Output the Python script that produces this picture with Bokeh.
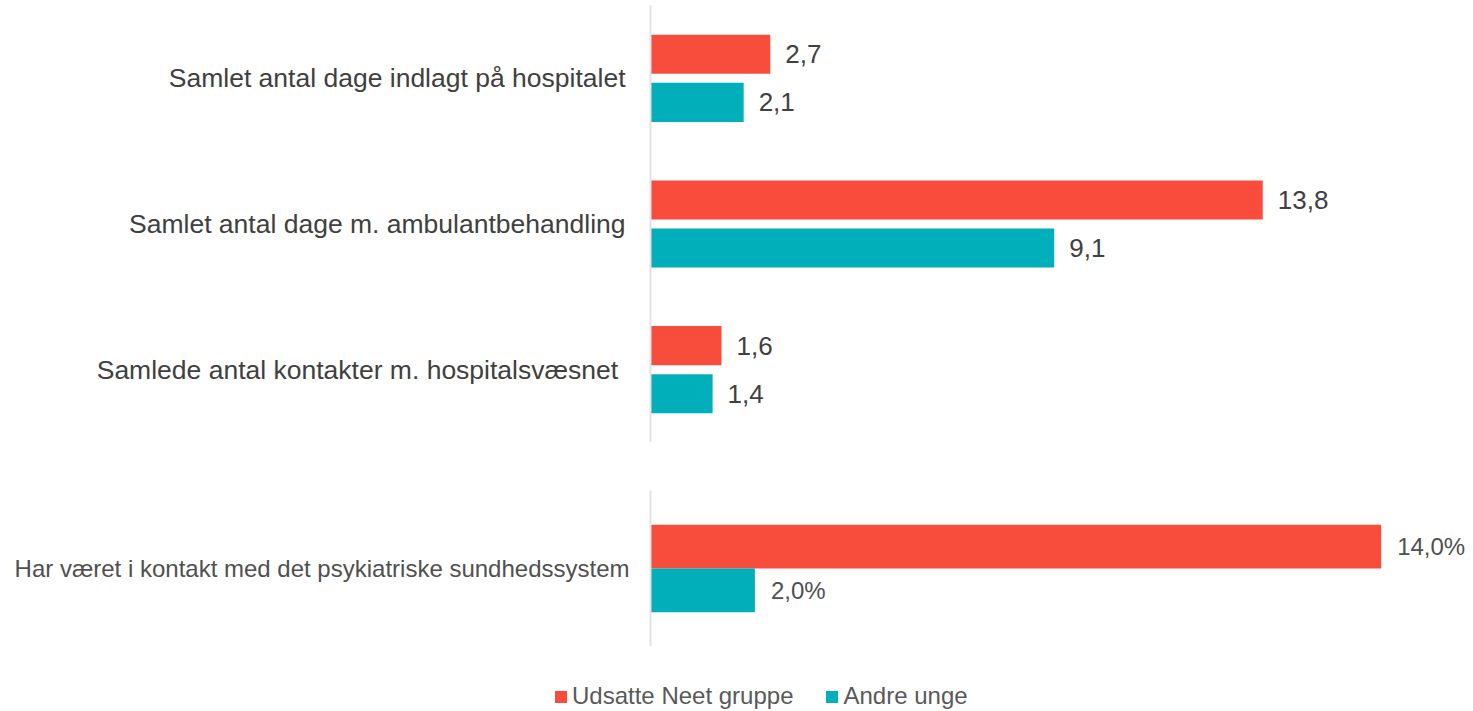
from bokeh.plotting import figure
from bokeh.models import FactorRange, Range1d, ColumnDataSource, LabelSet, Legend, LegendItem
from bokeh.transform import dodge
from bokeh.layouts import column
from bokeh.core.properties import value
from bokeh.embed import file_html
from bokeh.resources import INLINE

# ---- data ----
categories_top = [
    "Samlet antal dage indlagt på hospitalet",
    "Samlet antal dage m. ambulantbehandling",
    "Samlede antal kontakter m. hospitalsvæsnet ",
]
udsatte_top = [2.7, 13.8, 1.6]
andre_top = [2.1, 9.1, 1.4]

categories_bottom = ["Har været i kontakt med det psykiatriske sundhedssystem"]
udsatte_bottom = [14.0]
andre_bottom = [2.0]

series_names = ["Udsatte Neet gruppe", "Andre unge"]

RED = "#F84C3C"
TEAL = "#00AFBA"
FONT = "Liberation Sans"
TXT = "#404040"
W = 1473
LEFT = 650  # frames of stacked plots are aligned by the column


def fmt(v, pct=False):
    s = f"{v:.1f}".replace(".", ",")
    return s + "%" if pct else s


# ---- top figure ----
src_top = ColumnDataSource(dict(
    cat=categories_top,
    u=udsatte_top,
    a=andre_top,
    ul=[fmt(v) for v in udsatte_top],
    al=[fmt(v) for v in andre_top],
))

p1 = figure(
    width=W, height=442,
    y_range=FactorRange(factors=list(reversed(categories_top))),
    x_range=Range1d(0, 18.55),
    output_backend="svg", toolbar_location=None,
    min_border_left=LEFT, min_border_right=0, min_border_top=5, min_border_bottom=0,
)
off1, h1 = 0.165, 0.268
p1.hbar(y=dodge("cat", off1, range=p1.y_range), right="u", height=h1, source=src_top,
        color=RED, line_color=None)
p1.hbar(y=dodge("cat", -off1, range=p1.y_range), right="a", height=h1, source=src_top,
        color=TEAL, line_color=None)
for col, off in (("ul", off1), ("al", -off1)):
    p1.add_layout(LabelSet(
        x=col[0], y=dodge("cat", off, range=p1.y_range), text=col, source=src_top,
        x_offset=15, text_baseline="middle", text_align="left",
        text_font=value(FONT), text_font_size="26px", text_color=TXT,
    ))

# ---- bottom figure ----
src_bot = ColumnDataSource(dict(
    cat=categories_bottom,
    u=udsatte_bottom,
    a=andre_bottom,
    ul=[fmt(v, True) for v in udsatte_bottom],
    al=[fmt(v, True) for v in andre_bottom],
))

p2 = figure(
    width=W, height=204,
    y_range=FactorRange(factors=categories_bottom),
    x_range=Range1d(0, 15.77),
    output_backend="svg", toolbar_location=None,
    min_border_left=LEFT, min_border_right=0, min_border_top=48, min_border_bottom=0,
)
off2, h2 = 0.14, 0.28
p2.hbar(y=dodge("cat", off2, range=p2.y_range), right="u", height=h2, source=src_bot,
        color=RED, line_color=None)
p2.hbar(y=dodge("cat", -off2, range=p2.y_range), right="a", height=h2, source=src_bot,
        color=TEAL, line_color=None)
for col, off in (("ul", off2), ("al", -off2)):
    p2.add_layout(LabelSet(
        x=col[0], y=dodge("cat", off, range=p2.y_range), text=col, source=src_bot,
        x_offset=16, text_baseline="middle", text_align="left",
        text_font=value(FONT), text_font_size="24px", text_color="#505050",
    ))

# ---- legend strip: a separate root, so its frame spans the full width ----
# (its bars lie outside the visible x range; only the legend shows)
p3 = figure(
    width=W, height=65, x_range=Range1d(-10, -5),
    y_range=FactorRange(factors=categories_bottom),
    output_backend="svg", toolbar_location=None,
    min_border_left=0, min_border_right=0, min_border_top=0, min_border_bottom=0,
)
r_u = p3.hbar(y="cat", right="u", height=0.5, source=src_bot, color=RED, line_color=None)
r_a = p3.hbar(y="cat", right="a", height=0.5, source=src_bot, color=TEAL, line_color=None)
legend = Legend(
    items=[LegendItem(label=series_names[0], renderers=[r_u]),
           LegendItem(label=series_names[1], renderers=[r_a])],
    location=(553, 1), orientation="horizontal",
    glyph_width=15, glyph_height=15, label_standoff=4, spacing=31,
    padding=0, margin=0, border_line_color=None, background_fill_alpha=0,
    label_text_font=FONT, label_text_font_size="24px", label_text_color="#595959",
)
p3.add_layout(legend, "center")
p3.axis.visible = False
p3.grid.grid_line_color = None
p3.outline_line_color = None

# ---- styling ----
for p, size, standoff, lc in ((p1, "26.5px", 25, TXT), (p2, "24px", 21, "#505050")):
    p.xaxis.visible = False
    p.xgrid.grid_line_color = None
    p.ygrid.grid_line_color = None
    p.outline_line_color = None
    ax = p.yaxis[0]
    ax.axis_line_color = "#E3E3E3"
    ax.axis_line_width = 2
    ax.major_tick_line_color = None
    ax.minor_tick_line_color = None
    ax.major_tick_out = 0
    ax.major_tick_in = 0
    ax.major_label_standoff = standoff
    ax.major_label_text_font = FONT
    ax.major_label_text_font_size = size
    ax.major_label_text_color = lc

charts = column(p1, p2, spacing=0)
open("out.html", "w").write(file_html([charts, p3], INLINE))
